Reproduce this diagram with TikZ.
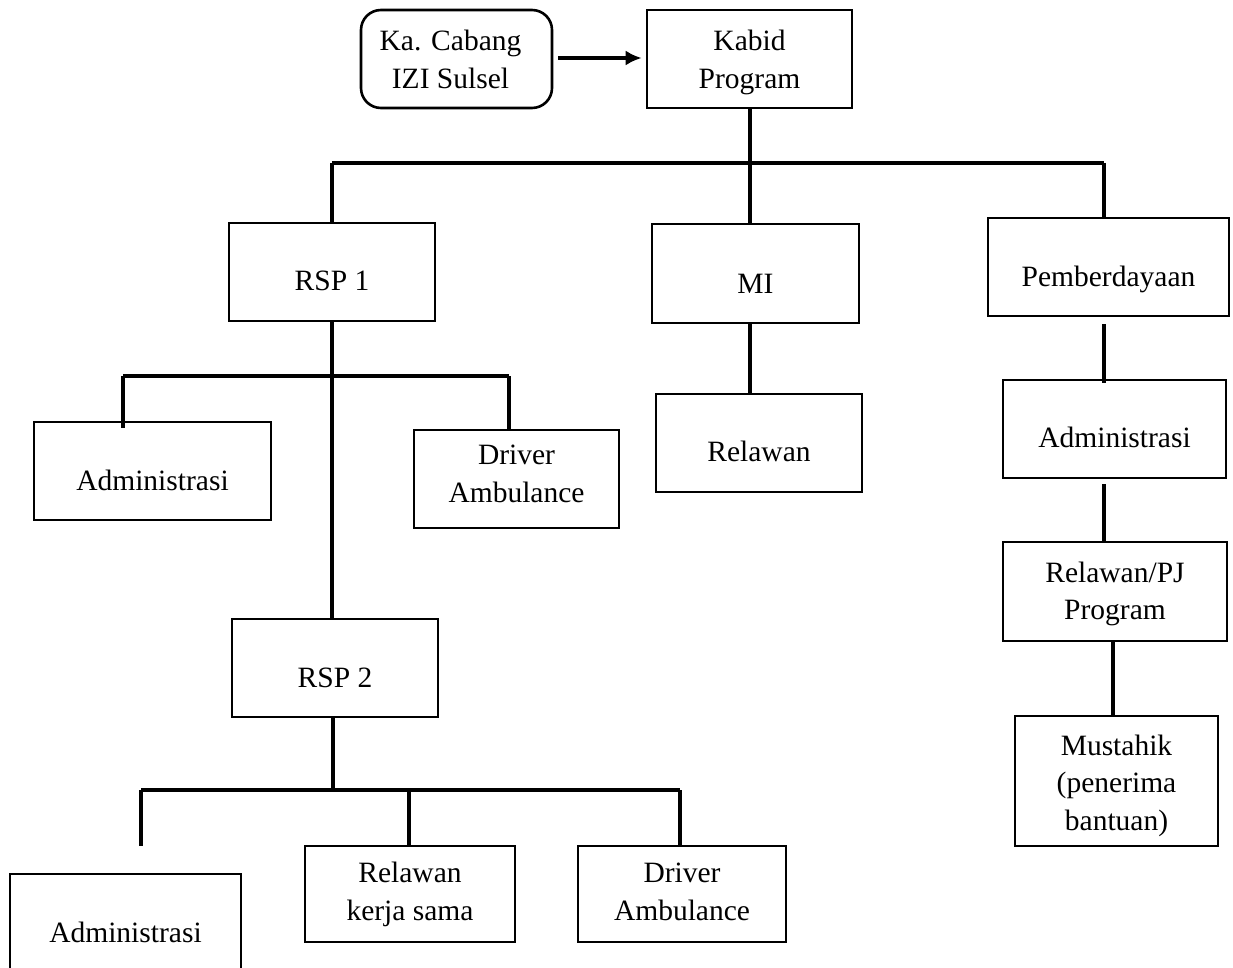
\documentclass[tikz,border=0pt]{standalone}
\usepackage{fontspec}
\setmainfont{Liberation Serif}
\usetikzlibrary{arrows.meta}
\newcommand\bxt[2][0pt]{\raisebox{-#1}[\height][\depth]{\begin{tabular}{@{}c@{}}#2\end{tabular}}}
\tikzset{
  box/.style={draw, line width=2.6pt, rectangle, inner sep=0pt,
    font=\fontsize{29.5}{37.5}\selectfont},
  rbox/.style={box, rounded corners=20pt},
  conn/.style={line width=3.1pt},
}
\begin{document}
\begin{tikzpicture}[x=1pt,y=-1pt]
\useasboundingbox (0,0) rectangle (1233,968);
% nodes
\node[rbox, minimum width=191pt, minimum height=98pt] (ka) at (456.5,59) {\bxt[3pt]{Ka. Cabang\\IZI Sulsel}\hspace*{12pt}};
\node[box, minimum width=205pt, minimum height=98pt] (kabid) at (749.5,59) {\bxt[3pt]{Kabid\\Program}};
\node[box, minimum width=206pt, minimum height=98pt] (rsp1) at (332,272) {\bxt[11pt]{RSP 1}};
\node[box, minimum width=207pt, minimum height=99pt] (mi) at (755.5,273.5) {\bxt[12pt]{MI}};
\node[box, minimum width=241pt, minimum height=98pt] (pem) at (1108.5,267) {\bxt[12pt]{Pemberdayaan}};
\node[box, minimum width=237pt, minimum height=98pt] (adma) at (152.5,471) {\bxt[12pt]{Administrasi}};
\node[box, minimum width=205pt, minimum height=98pt] (drva) at (516.5,479) {\bxt[-3pt]{Driver\\Ambulance}};
\node[box, minimum width=206pt, minimum height=98pt] (rel) at (759,443) {\bxt[11pt]{Relawan}};
\node[box, minimum width=223pt, minimum height=98pt] (admc) at (1114.5,429) {\bxt[11pt]{Administrasi}};
\node[box, minimum width=224pt, minimum height=99pt] (pj) at (1115,591.5) {\bxt[2pt]{Relawan/PJ\\Program}};
\node[box, minimum width=203pt, minimum height=130pt] (mus) at (1116.5,781) {\bxt[4pt]{Mustahik\\(penerima\\bantuan)}};
\node[box, minimum width=206pt, minimum height=98pt] (rsp2) at (335,668) {\bxt[12pt]{RSP 2}};
\node[box, minimum width=231pt, minimum height=98pt] (admb) at (125.5,923) {\bxt[12pt]{Administrasi}};
\node[box, minimum width=210pt, minimum height=96pt] (rks) at (410,894) {\bxt[0pt]{Relawan\\kerja sama}};
\node[box, minimum width=208pt, minimum height=96pt] (drvb) at (682,894) {\bxt[0pt]{Driver\\Ambulance}};
% junction coordinates
\coordinate (j0) at (750,163);
\coordinate (jl) at (332,163);
\coordinate (jr) at (1104,163);
\coordinate (h1) at (332,376);
\coordinate (h1l) at (123,376);
\coordinate (h1r) at (509,376);
\coordinate (e1) at (123,428);
\coordinate (h2) at (333,790);
\coordinate (h2l) at (141,790);
\coordinate (h2m) at (409,790);
\coordinate (h2r) at (680,790);
\coordinate (e2) at (141,846);
\coordinate (p1) at (1104,324);
\coordinate (p2) at (1104,383);
\coordinate (p3) at (1104,484);
% connectors
\draw[conn, -{Latex[length=16pt,width=15pt]}, shorten <=5pt, shorten >=4pt] (ka.east |- 0,58) -- (kabid.west |- 0,58);
\draw[conn] (kabid.south -| j0) -- (j0);
\draw[conn] (jl) -- (jr);
\draw[conn] (jl) -- (rsp1.north -| jl);
\draw[conn] (j0) -- (mi.north -| j0);
\draw[conn] (jr) -- (pem.north -| jr);
\draw[conn] (rsp1.south -| h1) -- (rsp2.north -| h1);
\draw[conn] (h1l) -- (h1r);
\draw[conn] (h1l) -- (e1);
\draw[conn] (h1r) -- (drva.north -| h1r);
\draw[conn] (mi.south -| j0) -- (rel.north -| j0);
\draw[conn] (p1) -- (p2);
\draw[conn] (p3) -- (pj.north -| p3);
\draw[conn] (pj.south -| 1113,0) -- (mus.north -| 1113,0);
\draw[conn] (rsp2.south -| h2) -- (h2);
\draw[conn] (h2l) -- (h2r);
\draw[conn] (h2l) -- (e2);
\draw[conn] (h2m) -- (rks.north -| h2m);
\draw[conn] (h2r) -- (drvb.north -| h2r);
\end{tikzpicture}
\end{document}
